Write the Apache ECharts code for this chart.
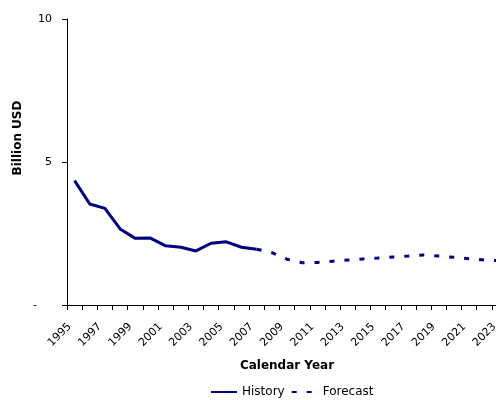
<!DOCTYPE html>
<html>
<head>
<meta charset="utf-8">
<script src="https://cdn.jsdelivr.net/npm/echarts@6/dist/echarts.min.js"></script>
<style>html,body{margin:0;padding:0;background:#fff}#c{width:496px;height:400px}</style>
</head>
<body>
<div id="c"></div>
<script>
var years = ['1995','1996','1997','1998','1999','2000','2001','2002','2003','2004','2005','2006','2007','2008','2009','2010','2011','2012','2013','2014','2015','2016','2017','2018','2019','2020','2021','2022','2023'];
var historyVals = [4.35, 3.53, 3.38, 2.66, 2.33, 2.34, 2.07, 2.02, 1.89, 2.16, 2.21, 2.02, 1.95, null, null, null, null, null, null, null, null, null, null, null, null, null, null, null, null];
var forecastVals = [null, null, null, null, null, null, null, null, null, null, null, null, 1.95, 1.83, 1.60, 1.48, 1.49, 1.53, 1.57, 1.61, 1.64, 1.68, 1.71, 1.75, 1.71, 1.67, 1.62, 1.57, 1.55];
var yTicks = [0, 5, 10];

var FONT = 'DejaVu Sans';
var NAVY = '#000080';
var chart = echarts.init(document.getElementById('c'), null, {renderer: 'canvas'});
chart.setOption({
  animation: false,
  backgroundColor: '#fff',
  textStyle: {fontFamily: FONT},
  grid: {left: 67, top: 19, right: -11, bottom: 95, containLabel: false, outerBoundsMode: 'none'},
  legend: {
    left: 210, top: 386, padding: 0, itemWidth: 26, itemHeight: 12, itemGap: 6,
    itemStyle: {opacity: 0},
    textStyle: {fontFamily: FONT, fontSize: 12, color: '#000'},
    data: ['History', 'Forecast']
  },
  xAxis: {
    type: 'category', data: years, boundaryGap: true,
    name: 'Calendar Year', nameLocation: 'middle', nameGap: 55,
    nameTextStyle: {fontFamily: FONT, fontSize: 12, fontWeight: 'bold', color: '#000'},
    axisLine: {lineStyle: {color: '#000', width: 1}},
    axisTick: {show: true, interval: 0, length: 5, lineStyle: {color: '#000'}},
    axisLabel: {
      interval: 1, rotate: 45, margin: 15, fontFamily: FONT, fontSize: 11, color: '#000',
      formatter: function (v) { return '{a|' + v + '}{s|}'; },
      rich: {a: {fontFamily: FONT, fontSize: 11, color: '#000'}, s: {width: 7, fontSize: 11}}
    },
    splitLine: {show: false}
  },
  yAxis: {
    type: 'value', min: yTicks[0], max: yTicks[yTicks.length - 1], interval: 5,
    axisLine: {show: true, lineStyle: {color: '#000', width: 1}},
    axisTick: {show: true, length: 5, lineStyle: {color: '#000'}},
    axisLabel: {
      margin: 15, fontFamily: FONT, fontSize: 11, color: '#000',
      formatter: function (v) { return v === 0 ? '{d|-}' : String(v); },
      rich: {d: {fontFamily: FONT, fontSize: 11, color: '#000', padding: [0, 15, 0, 0]}}
    },
    splitLine: {show: false}
  },
  graphic: [{
    type: 'text', x: 18, y: 138, rotation: Math.PI / 2,
    style: {text: 'Billion USD', font: 'bold 12px "DejaVu Sans"', fill: '#000', textAlign: 'center', textVerticalAlign: 'middle'}
  }],
  series: [
    {name: 'History', type: 'line', data: historyVals, symbol: 'none', connectNulls: false,
     lineStyle: {color: NAVY, width: 3}, itemStyle: {color: NAVY}},
    {name: 'Forecast', type: 'line', data: forecastVals, symbol: 'none', connectNulls: false,
     lineStyle: {color: NAVY, width: 3, type: [5, 10], cap: 'butt'}, itemStyle: {color: NAVY}}
  ]
});
</script>
</body>
</html>
